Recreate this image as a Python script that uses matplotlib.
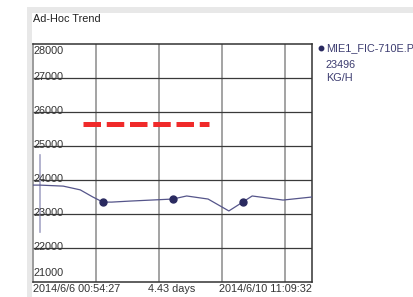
import matplotlib
matplotlib.use("Agg")
import matplotlib.pyplot as plt
from matplotlib.patches import Rectangle

plt.rcParams['font.family'] = ['Liberation Sans', 'DejaVu Sans']

# trend data (x in days since start)
times = [0, 0.11, 0.48, 0.75, 0.95, 1.11, 1.25, 1.54, 2.22, 2.44, 2.78, 3.11, 3.33, 3.48, 3.97, 4.43]
values = [23850, 23850, 23820, 23710, 23500, 23350, 23350, 23380, 23440, 23530, 23440, 23090, 23350, 23530, 23410, 23500]
marker_times = [1.11, 2.22, 3.33]
marker_values = [23350, 23440, 23350]

# limit line and cursor
limit_value = 25650
limit_span = [0.79, 2.79]
cursor_time = 0.11
cursor_span = [22470, 24740]

y_ticks = [28000, 27000, 26000, 25000, 24000, 23000, 22000, 21000]
x_labels = ["2014/6/6 00:54:27", "4.43 days", "2014/6/10 11:09:32"]
tag_name = "MIE1_FIC-710E.PV"
tag_value = "23496"
tag_unit = "KG/H"

W, H = 414, 297
fig = plt.figure(figsize=(W / 100, H / 100), dpi=100)
fig.patch.set_facecolor("white")

# window frame
fig.patches.append(Rectangle((27 / W, 0), 1 - 27 / W, 1 - 7 / H, transform=fig.transFigure,
                             facecolor="#e8e8e8", edgecolor="none", zorder=-2))
fig.patches.append(Rectangle((32 / W, 0), 1 - 32 / W, 1 - 13 / H, transform=fig.transFigure,
                             facecolor="white", edgecolor="none", zorder=-1))

ax = fig.add_axes([33 / W, 15 / H, 279 / W, 238 / H])
ax.set_xlim(0, 4.43)
ax.set_ylim(21000, 28000)
ax.set_xticks([])
ax.set_yticks([])

for d in [1, 2, 3, 4]:
    ax.axvline(d, color="#8a8a8a", lw=1.1, zorder=1)
for v in y_ticks[1:-1]:
    ax.axhline(v, color="#3a3a3a", lw=0.9, zorder=1)

for s in ["top", "bottom", "right"]:
    ax.spines[s].set_color("#333333")
    ax.spines[s].set_linewidth(1.1)
ax.spines["left"].set_color("#8a8a8a")
ax.spines["left"].set_linewidth(1.2)

# y labels drawn inside the plot
tk = dict(fontsize=7.8, color="#333333", va="center", ha="left", zorder=3)
for v in y_ticks:
    if v == 28000:
        yy = v - 200
    elif v == 21000:
        yy = v + 260
    else:
        yy = v + 40
    ax.text(0.01, yy, str(v), **tk)

ax.plot(limit_span, [limit_value, limit_value], color="#f02a2a", lw=3.6,
        dashes=(3.5, 1.15), solid_capstyle="butt", zorder=2)
ax.plot([cursor_time, cursor_time], cursor_span, color="#a6a6c6", lw=1.2, zorder=2)
ax.plot(times, values, color="#55558a", lw=0.9, zorder=3)
ax.plot(marker_times, marker_values, "o", color="#2a2a60", ms=5, zorder=4)

# bottom labels
fig.text(33 / W, 1 - 289 / H, x_labels[0], fontsize=7.8, color="#333333", va="center", ha="left")
fig.text(172 / W, 1 - 289 / H, x_labels[1], fontsize=7.8, color="#333333", va="center", ha="center")
fig.text(312 / W, 1 - 289 / H, x_labels[2], fontsize=7.8, color="#333333", va="center", ha="right")

fig.text(33 / W, 1 - 19 / H, "Ad-Hoc Trend", fontsize=7.8, color="#222222", va="center", ha="left")

# legend
navy = "#3c3c70"
fig.lines.append(plt.Line2D([321 / W], [1 - 48 / H], marker="o", ms=3.2, color="#2a2a60",
                            transform=fig.transFigure))
fig.text(326 / W, 1 - 48 / H, tag_name, fontsize=7.8, color=navy, va="center", ha="left")
fig.text(326 / W, 1 - 65 / H, tag_value, fontsize=7.8, color=navy, va="center", ha="left")
fig.text(326 / W, 1 - 78 / H, tag_unit, fontsize=7.8, color=navy, va="center", ha="left")

fig.savefig("out.png", dpi=100)
